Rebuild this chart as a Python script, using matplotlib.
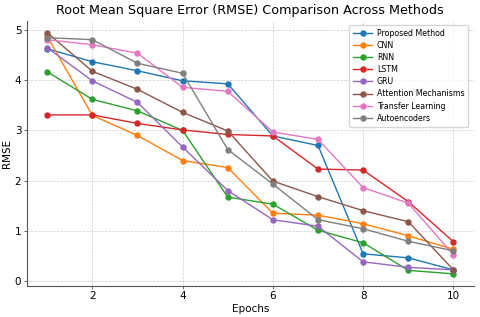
import matplotlib
matplotlib.use("Agg")
import matplotlib.pyplot as plt

epochs = [1, 2, 3, 4, 5, 6, 7, 8, 9, 10]
proposed = [4.63, 4.37, 4.19, 3.99, 3.93, 2.89, 2.70, 0.54, 0.46, 0.22]
cnn = [4.88, 3.30, 2.90, 2.40, 2.26, 1.35, 1.31, 1.14, 0.90, 0.63]
rnn = [4.17, 3.62, 3.39, 3.00, 1.67, 1.53, 1.01, 0.76, 0.21, 0.14]
lstm = [3.31, 3.31, 3.14, 3.01, 2.92, 2.89, 2.23, 2.21, 1.58, 0.78]
gru = [4.65, 3.99, 3.56, 2.67, 1.80, 1.22, 1.09, 0.38, 0.27, 0.22]
attention = [4.95, 4.18, 3.82, 3.36, 2.99, 1.99, 1.68, 1.40, 1.18, 0.22]
transfer = [4.81, 4.71, 4.54, 3.86, 3.78, 2.97, 2.82, 1.86, 1.55, 0.52]
autoenc = [4.85, 4.81, 4.34, 4.14, 2.62, 1.93, 1.22, 1.04, 0.79, 0.60]

series = [
    ("Proposed Method", proposed),
    ("CNN", cnn),
    ("RNN", rnn),
    ("LSTM", lstm),
    ("GRU", gru),
    ("Attention Mechanisms", attention),
    ("Transfer Learning", transfer),
    ("Autoencoders", autoenc),
]

fig = plt.figure(figsize=(4.8, 3.17), dpi=100)
ax = fig.add_axes([0.056, 0.098, 0.931, 0.837])
for name, vals in series:
    ax.plot(epochs, vals, marker="o", markersize=3.6, linewidth=1.0, label=name)

ax.set_title("Root Mean Square Error (RMSE) Comparison Across Methods", fontsize=9.2, pad=5)
ax.set_xlabel("Epochs", fontsize=7.5, labelpad=2)
ax.set_ylabel("RMSE", fontsize=7.5, labelpad=2)
ax.set_xticks([2, 4, 6, 8, 10])
ax.set_yticks([0, 1, 2, 3, 4, 5])
ax.tick_params(labelsize=7.5, length=2.5, width=0.6, pad=1.5, color="#555555")
ax.grid(True, linestyle="--", linewidth=0.5, color="#cccccc")
for s in ["top", "right"]:
    ax.spines[s].set_visible(False)
for s in ["left", "bottom"]:
    ax.spines[s].set_color("#555555")
    ax.spines[s].set_linewidth(0.8)
ax.legend(loc="upper right", fontsize=5.7, frameon=True, handlelength=2.4,
          labelspacing=0.4, borderpad=0.5, handletextpad=0.6,
          bbox_to_anchor=(0.997, 1.0))
fig.savefig("out.png", dpi=100)
